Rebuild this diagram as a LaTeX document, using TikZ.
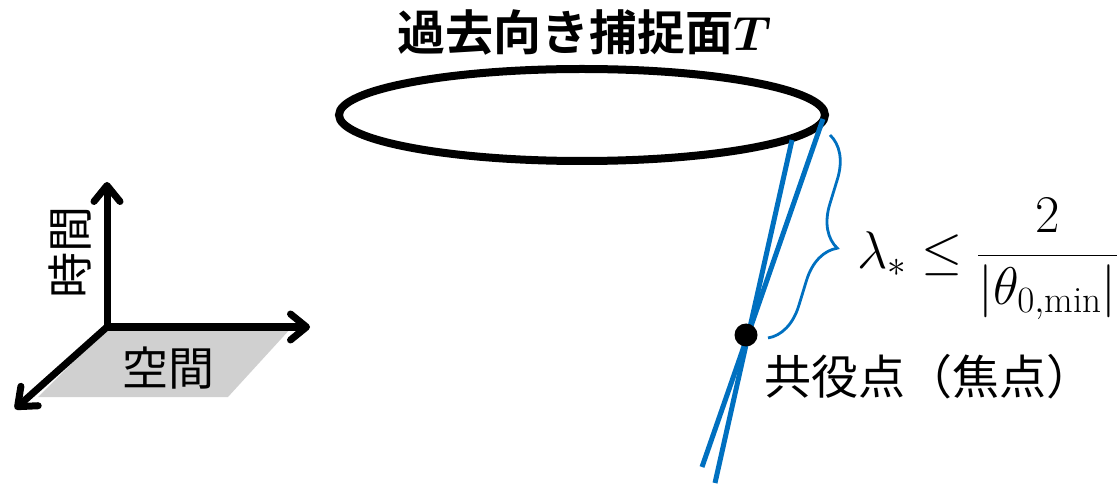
\RequirePackage{fix-cm}
\documentclass[tikz,border=0pt]{standalone}
\usepackage{amsmath}
\usepackage{bm}
\usepackage{fontspec}
\usetikzlibrary{arrows.meta,decorations.pathreplacing,shapes.geometric}
\newfontfamily\cjk{Noto Sans CJK JP}
\newfontfamily\cjkbold{Noto Sans CJK JP Bold}
\definecolor{lineblue}{RGB}{0,112,192}
\definecolor{planegray}{RGB}{208,208,208}
\begin{document}
\begin{tikzpicture}[x=1pt,y=-1pt,
  axis/.style={line width=7pt,-{Straight Barb[length=16pt,width=26pt,round]}},
  ray/.style={draw=lineblue,line width=5pt},
  bigtext/.style={font=\cjk\fontsize{46}{52}\selectfont,inner sep=0pt}]
\useasboundingbox (0,0) rectangle (1119,486);
% spatial plane
\fill[planegray] (108,327) -- (292,327) -- (228,397) -- (38,397) -- cycle;
\coordinate (O) at (107,327);
\coordinate (tT) at (107,182);
\coordinate (tX) at (310,327);
\coordinate (tY) at (15,409);
\draw[axis] (O) -- (tT);
\draw[axis] (O) -- (tX);
\draw[axis] (O) -- (tY);
\node[bigtext] (space) at (168,368) {空間};
\node[bigtext,rotate=90] (time) at (70,253) {時間};
% trapped surface
\node[draw,line width=8pt,ellipse,minimum width=486pt,minimum height=92pt,inner sep=0pt] (surf) at (582,115) {};
\node[font=\cjkbold\fontsize{48}{56}\selectfont,inner sep=0pt,anchor=west] (title) at (397,33) {過去向き捕捉面$\bm{T}$};
% rays
\coordinate (a1) at (823,119);
\coordinate (a2) at (702,467);
\coordinate (b1) at (792,140);
\coordinate (b2) at (715,483);
\draw[ray] (a1) -- (a2);
\draw[ray] (b1) -- (b2);
\node[circle,fill=black,minimum size=23pt,inner sep=0pt] (focus) at (746,335) {};
\coordinate (br1) at (830,135);
\coordinate (br2) at (768,338);
\draw[lineblue,line width=2.8pt,decorate,decoration={brace,amplitude=40pt,aspect=0.5}] (br1) -- (br2);
\node[anchor=west,inner sep=0pt,font=\fontsize{53}{60}\selectfont] (formula) at (857,259) {$\lambda_* \le \dfrac{2}{|\theta_{0,\min}|}$};
\node[font=\cjk\fontsize{47}{54}\selectfont,inner sep=0pt,anchor=west] (label) at (764,377) {共役点（焦点）};
\end{tikzpicture}
\end{document}
